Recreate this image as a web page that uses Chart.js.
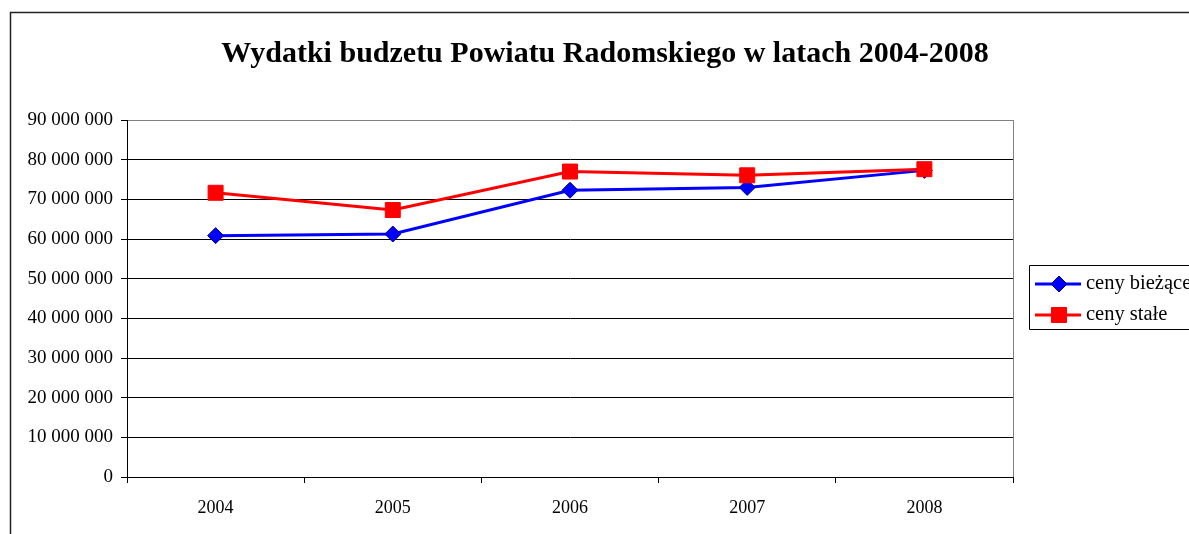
<!DOCTYPE html>
<html>
<head>
<meta charset="utf-8">
<script src="https://cdn.jsdelivr.net/npm/chart.js@4.4.1/dist/chart.umd.min.js"></script>
<style>
  html, body { margin: 0; padding: 0; background: #fff; }
  #wrap { width: 1189px; height: 534px; position: relative; }
</style>
</head>
<body>
<div id="wrap"><canvas id="c" width="1189" height="534"></canvas></div>
<script>
const titleText = 'Wydatki budzetu Powiatu Radomskiego w latach 2004-2008';
const years = ['2004', '2005', '2006', '2007', '2008'];
const seriesNames = ['ceny bieżące', 'ceny stałe'];
const cenyBiezace = [60850000, 61250000, 72300000, 73000000, 77300000];
const cenyStale = [71650000, 67300000, 77000000, 76050000, 77600000];
const yMin = 0;
const yMax = 90000000;
const yStep = 10000000;

function fmt(v) {
  return String(Math.round(v)).replace(/\B(?=(\d{3})+(?!\d))/g, ' ');
}

const decor = {
  id: 'decor',
  afterDraw(chart) {
    const ctx = chart.ctx;
    const a = chart.chartArea;
    ctx.save();
    // outer frame
    ctx.strokeStyle = '#222';
    ctx.lineWidth = 1.5;
    ctx.beginPath();
    ctx.moveTo(10.5, 540);
    ctx.lineTo(10.5, 12.5);
    ctx.lineTo(1195, 12.5);
    ctx.stroke();
    // right plot border
    ctx.strokeStyle = '#808080';
    ctx.lineWidth = 1;
    ctx.beginPath();
    ctx.moveTo(Math.round(a.right) + 0.5, a.top);
    ctx.lineTo(Math.round(a.right) + 0.5, a.bottom);
    ctx.stroke();
    // title
    ctx.fillStyle = '#000';
    ctx.font = 'bold 30px "Liberation Serif", "Times New Roman", serif';
    ctx.textAlign = 'center';
    ctx.textBaseline = 'alphabetic';
    ctx.fillText(titleText, 605, 62);
    // legend box
    ctx.strokeStyle = '#000';
    ctx.lineWidth = 1;
    ctx.fillStyle = '#fff';
    ctx.beginPath();
    ctx.rect(1029.5, 265.5, 170, 64);
    ctx.fill();
    ctx.stroke();
    ctx.font = '20.5px "Liberation Serif", "Times New Roman", serif';
    ctx.textAlign = 'left';
    ctx.textBaseline = 'middle';
    const ys = [284, 315];
    chart.data.datasets.forEach((ds, i) => {
      const y = ys[i];
      ctx.strokeStyle = ds.borderColor;
      ctx.lineWidth = 3;
      ctx.beginPath();
      ctx.moveTo(1035, y);
      ctx.lineTo(1081, y);
      ctx.stroke();
      ctx.fillStyle = ds.pointBackgroundColor;
      ctx.strokeStyle = ds.pointBorderColor;
      ctx.lineWidth = ds.pointBorderWidth;
      ctx.beginPath();
      if (ds.pointStyle === 'rectRot') {
        const r = ds.pointRadius;
        ctx.moveTo(1059, y - r); ctx.lineTo(1059 + r, y); ctx.lineTo(1059, y + r); ctx.lineTo(1059 - r, y); ctx.closePath();
      } else {
        const s = ds.pointRadius * Math.SQRT1_2;
        ctx.rect(1059 - s, y - s, 2 * s, 2 * s);
      }
      ctx.fill();
      ctx.stroke();
      ctx.fillStyle = '#000';
      ctx.fillText(ds.label, 1086, y);
    });
    ctx.restore();
  }
};

new Chart(document.getElementById('c'), {
  type: 'line',
  data: {
    labels: years,
    datasets: [
      {
        label: seriesNames[0],
        data: cenyBiezace,
        borderColor: '#0000FF',
        borderWidth: 3,
        pointStyle: 'rectRot',
        pointRadius: 8,
        pointBackgroundColor: '#0000FF',
        pointBorderColor: '#000080',
        pointBorderWidth: 1,
        tension: 0,
        order: 2
      },
      {
        label: seriesNames[1],
        data: cenyStale,
        borderColor: '#FF0000',
        borderWidth: 3,
        pointStyle: 'rect',
        pointRadius: 10.6,
        pointBackgroundColor: '#FF0000',
        pointBorderColor: '#FF0000',
        pointBorderWidth: 1,
        tension: 0,
        order: 1
      }
    ]
  },
  options: {
    responsive: false,
    animation: false,
    devicePixelRatio: 1,
    layout: { padding: { left: 10, top: 120, right: 176, bottom: 0 } },
    plugins: {
      legend: { display: false },
      title: { display: false },
      tooltip: { enabled: false }
    },
    scales: {
      x: {
        type: 'category',
        offset: true,
        afterFit(scale) { scale.height = 57; },
        grid: {
          offset: true,
          drawOnChartArea: false,
          drawTicks: true,
          tickLength: 6,
          color: '#000',
          tickColor: '#000'
        },
        border: { color: '#000', width: 1 },
        ticks: {
          color: '#000',
          padding: 14,
          maxRotation: 0,
          font: { family: '"Liberation Serif", "Times New Roman", serif', size: 18 }
        }
      },
      y: {
        min: yMin,
        max: yMax,
        afterFit(scale) { scale.width = 117; },
        grid: {
          color: (c) => (c.tick && c.tick.value === yMax ? '#808080' : '#000'),
          tickColor: '#000',
          tickLength: 6,
          lineWidth: 1
        },
        border: { color: '#000', width: 1 },
        ticks: {
          stepSize: yStep,
          color: '#000',
          padding: 8,
          font: { family: '"Liberation Serif", "Times New Roman", serif', size: 19 },
          callback: (v) => fmt(v)
        }
      }
    }
  },
  plugins: [decor]
});
</script>
</body>
</html>
